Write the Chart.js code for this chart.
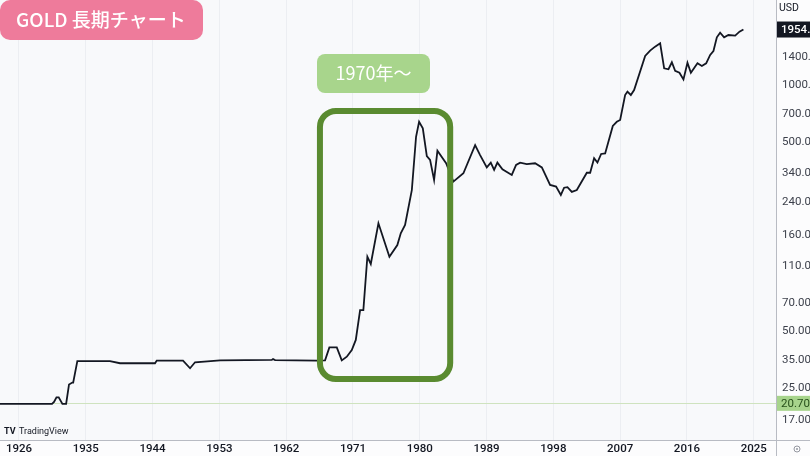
<!DOCTYPE html>
<html>
<head>
<meta charset="utf-8">
<script src="https://cdn.jsdelivr.net/npm/chart.js@4"></script>
<style>
  body { margin: 0; background: #fcfcfd; }
  canvas { display: block; }
</style>
</head>
<body>
<canvas id="goldchart" width="810" height="456"></canvas>
<script>
//DATA---------------------------------------------------------------
const titleText = "GOLD 長期チャート";
const periodText = "1970年〜";
const currency = "USD";

const years = [
  1923.44, 1930.45, 1930.72, 1931.05, 1931.35, 1931.85, 1932.35, 1932.74, 1933.18, 1933.30, 1933.86,
  1938.26, 1939.61, 1944.33, 1944.56, 1948.10, 1949.05, 1949.72, 1953.09, 1960.06, 1960.23, 1960.50,
  1966.12, 1967.24, 1967.82, 1968.82, 1969.49, 1970.17, 1970.84, 1971.38, 1971.96, 1972.40, 1972.94,
  1973.40, 1974.43, 1975.91, 1976.98, 1977.44, 1978.02, 1978.93, 1979.50, 1979.91, 1980.41, 1980.95,
  1981.39, 1981.93, 1982.38, 1983.55, 1984.53, 1985.88, 1987.46, 1988.13, 1989.03, 1989.57, 1990.02,
  1990.46, 1991.14, 1992.40, 1992.98, 1993.52, 1994.42, 1995.54, 1996.45, 1997.56, 1998.37, 1999.01,
  1999.45, 1999.90, 2000.49, 2001.16, 2002.51, 2002.96, 2003.49, 2003.94, 2004.44, 2004.98, 2006.01,
  2006.55, 2007.00, 2007.67, 2007.98, 2008.44, 2008.88, 2010.37, 2011.04, 2011.71, 2012.39, 2012.93,
  2013.51, 2013.97, 2014.41, 2014.99, 2015.53, 2016.07, 2016.53, 2017.42, 2018.01, 2018.59, 2019.13,
  2019.57, 2020.03, 2020.47, 2021.01, 2021.59, 2022.50, 2023.08, 2023.61
];
const prices = [
  20.67, 20.67, 21.2, 22.4, 22.4, 20.67, 20.67, 26.2, 26.8, 26.8, 34.8,
  34.8, 33.9, 33.9, 35.0, 35.0, 31.9, 34.3, 35.1, 35.3, 35.7, 35.2,
  35.0, 35.1, 41.1, 41.1, 35.1, 36.7, 39.8, 45.0, 64.7, 64.7, 123.7,
  113.2, 185.6, 123.7, 142.6, 164.4, 181.8, 278, 531, 637, 589, 420,
  401, 314, 448, 385, 308, 341, 480, 425, 366, 388, 355,
  388, 358, 334, 377, 388, 381, 385, 366, 296, 290, 262,
  286, 288, 272, 278, 343, 343, 409, 388, 431, 434, 606,
  637, 651, 882, 918, 882, 937, 1418, 1512, 1587, 1654, 1220,
  1206, 1313, 1185, 1157, 1067, 1306, 1157, 1297, 1255, 1297, 1435,
  1506, 1779, 1881, 1779, 1829, 1815, 1905, 1954
];

const xTickYears = [1926, 1935, 1944, 1953, 1962, 1971, 1980, 1989, 1998, 2007, 2016, 2025];
const yTickPrices = [17, 25, 35, 50, 70, 110, 160, 240, 340, 500, 700, 1000, 1400];

const lastPrice = 1954.80;
const basePrice = 20.70;
const boxFromYear = 1966.55;
const boxToYear = 1984.1;
//-------------------------------------------------------------------


//HELPERS------------------------------------------------------------
function roundBox(ctx, x, y, w, h, r) {
  ctx.beginPath();
  ctx.moveTo(x + r, y);
  ctx.arcTo(x + w, y, x + w, y + h, r);
  ctx.arcTo(x + w, y + h, x, y + h, r);
  ctx.arcTo(x, y + h, x, y, r);
  ctx.arcTo(x, y, x + w, y, r);
  ctx.closePath();
}
//-------------------------------------------------------------------


//PLUGIN: fundo, caixas, etiquetas-----------------------------------
const overlay = {
  id: "overlay",
  beforeDraw(chart) {
    const ctx = chart.ctx;
    const a = chart.chartArea;
    ctx.save();
    ctx.fillStyle = "#fcfcfd";
    ctx.fillRect(0, 0, chart.width, chart.height);
    ctx.fillStyle = "#f8f9fb";
    ctx.fillRect(a.left, a.top, a.right - a.left, a.bottom - a.top);
    ctx.restore();
  },
  beforeDatasetsDraw(chart) {
    const ctx = chart.ctx;
    const a = chart.chartArea;
    const yb = Math.round(chart.scales.y.getPixelForValue(basePrice)) - 0.5;
    ctx.save();
    ctx.strokeStyle = "#cfe3bf";
    ctx.lineWidth = 1;
    ctx.beginPath();
    ctx.moveTo(a.left, yb);
    ctx.lineTo(a.right, yb);
    ctx.stroke();
    ctx.restore();
  },
  afterDraw(chart) {
    const ctx = chart.ctx;
    const a = chart.chartArea;
    const xs = chart.scales.x;
    const ys = chart.scales.y;
    ctx.save();

    // eixos
    ctx.strokeStyle = "#b8bbc3";
    ctx.lineWidth = 1;
    ctx.beginPath();
    ctx.moveTo(a.right + 0.5, 0);
    ctx.lineTo(a.right + 0.5, chart.height);
    ctx.moveTo(0, a.bottom + 0.5);
    ctx.lineTo(chart.width, a.bottom + 0.5);
    ctx.stroke();

    // retangulo verde
    const x1 = xs.getPixelForValue(boxFromYear);
    const x2 = xs.getPixelForValue(boxToYear);
    ctx.strokeStyle = "#5a8b30";
    ctx.lineWidth = 6;
    roundBox(ctx, x1, 111, x2 - x1, 268, 16);
    ctx.stroke();

    // etiqueta 1970
    ctx.fillStyle = "#a8d58c";
    roundBox(ctx, 317, 54, 113, 39, 8);
    ctx.fill();
    ctx.fillStyle = "#ffffff";
    ctx.font = '400 18px "Noto Sans CJK JP"';
    ctx.textAlign = "center";
    ctx.textBaseline = "middle";
    ctx.fillText(periodText, 373.5, 73.5);

    // titulo
    ctx.fillStyle = "#ee7b9b";
    roundBox(ctx, 0, 0, 203, 40, 10);
    ctx.fill();
    ctx.fillStyle = "#ffffff";
    ctx.font = '500 19px "Noto Sans CJK JP"';
    ctx.textAlign = "left";
    ctx.fillText(titleText, 16, 20);

    // USD
    ctx.fillStyle = "#131722";
    ctx.font = '10.5px Roboto';
    ctx.fillText(currency, a.right + 3, 8);

    // preco atual
    const yl = ys.getPixelForValue(lastPrice);
    ctx.fillStyle = "#131722";
    ctx.fillRect(a.right + 1, yl - 8, 40, 16);
    ctx.fillStyle = "#ffffff";
    ctx.font = '500 11.5px Roboto';
    ctx.fillText(lastPrice.toFixed(2), a.right + 5, yl + 0.5);

    // 20.70
    const yb = ys.getPixelForValue(basePrice);
    ctx.fillStyle = "#a7d48c";
    ctx.fillRect(a.right + 1, yb - 8, 40, 15);
    ctx.fillStyle = "#27501a";
    ctx.font = '11.5px Roboto';
    ctx.fillText(basePrice.toFixed(2), a.right + 5, yb);

    // logo TradingView
    ctx.fillStyle = "#131722";
    ctx.font = 'bold 9px Roboto';
    ctx.fillText("TV", 4, 432);
    ctx.font = '9px Roboto';
    ctx.fillText("TradingView", 19, 432);

    // icone canto
    ctx.strokeStyle = "#9598a1";
    ctx.lineWidth = 1;
    ctx.beginPath();
    ctx.arc(797, 449, 3, 0, Math.PI * 2);
    ctx.stroke();
    ctx.beginPath();
    ctx.arc(797, 449, 1, 0, Math.PI * 2);
    ctx.fillStyle = "#9598a1";
    ctx.fill();

    ctx.restore();
  }
};
//-------------------------------------------------------------------


//GRAFICO LINHA------------------------------------------------------
function goldChart() {
  const points = years.map(function (yr, i) {
    return { x: yr, y: prices[i] };
  });

  const data = {
    datasets: [
      {
        label: "GOLD",
        data: points,
        borderColor: "#131722",
        borderWidth: 1.8,
        pointRadius: 0,
        tension: 0,
      },
    ],
  };

  const config = {
    type: "line",
    data: data,
    plugins: [overlay],
    options: {
      responsive: false,
      animation: false,
      devicePixelRatio: 1,
      layout: { padding: 0 },
      plugins: { legend: { display: false }, tooltip: { enabled: false } },
      scales: {
        x: {
          type: "linear",
          min: 1923.44,
          max: 2028.0,
          bounds: "data",
          afterBuildTicks: function (scale) {
            scale.ticks = xTickYears.map(function (v) { return { value: v }; });
          },
          afterFit: function (scale) {
            scale.height = 16;
            scale.paddingLeft = 0;
            scale.paddingRight = 0;
          },
          grid: { color: "#eceef2", drawTicks: false },
          border: { display: false },
          ticks: {
            padding: 2,
            maxRotation: 0,
            autoSkip: false,
            color: "#131722",
            font: { family: "Roboto", size: 11.5, weight: "500" },
            callback: function (v) { return String(v); },
          },
        },
        y: {
          type: "logarithmic",
          position: "right",
          min: 13.34,
          max: 2798,
          bounds: "data",
          afterBuildTicks: function (scale) {
            scale.ticks = yTickPrices.map(function (v) { return { value: v }; });
          },
          afterFit: function (scale) {
            scale.width = 34;
            scale.paddingTop = 0;
            scale.paddingBottom = 0;
          },
          grid: { display: false, drawTicks: false },
          border: { display: false },
          ticks: {
            padding: 6,
            crossAlign: "near",
            autoSkip: false,
            color: "#3b3f4a",
            font: { family: "Roboto", size: 11.5 },
            callback: function (v) { return Number(v).toFixed(2); },
          },
        },
      },
    },
  };

  return new Chart(document.getElementById("goldchart"), config);
}

const chartGold = goldChart();
//-------------------------------------------------------------------
</script>
</body>
</html>
